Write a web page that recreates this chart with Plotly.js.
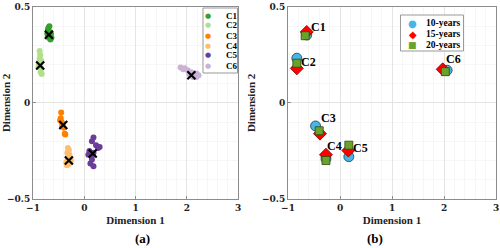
<!DOCTYPE html>
<html>
<head>
<meta charset="utf-8">
<script src="https://cdn.plot.ly/plotly-3.0.1.min.js"></script>
<style>
  html, body { margin: 0; padding: 0; background: #fff; }
  #chart { width: 500px; height: 248px; }
</style>
</head>
<body>
<div id="chart"></div>
<script>
// ---- panel (a): cluster points ----
var clusterNames = ['C1', 'C2', 'C3', 'C4', 'C5', 'C6'];
var clusterColors = ['#33a02c', '#b2df8a', '#ff7f00', '#fdbf6f', '#6a3d9a', '#cab2d6'];

var c1X = [-0.68, -0.70, -0.71, -0.72, -0.71, -0.69, -0.66, -0.64, -0.65, -0.67, -0.70, -0.68];
var c1Y = [0.40, 0.39, 0.38, 0.36, 0.35, 0.34, 0.33, 0.34, 0.36, 0.37, 0.37, 0.35];
var c2X = [-0.87, -0.86, -0.87, -0.88, -0.89, -0.86, -0.84, -0.85, -0.83, -0.84];
var c2Y = [0.27, 0.25, 0.23, 0.21, 0.19, 0.20, 0.18, 0.16, 0.15, 0.22];
var c3X = [-0.45, -0.46, -0.47, -0.44, -0.42, -0.40, -0.38, -0.37, -0.43];
var c3Y = [-0.05, -0.08, -0.09, -0.10, -0.11, -0.13, -0.16, -0.165, -0.12];
var c4X = [-0.32, -0.30, -0.33, -0.31, -0.29, -0.28, -0.33, -0.35, -0.30, -0.26, -0.34, -0.31];
var c4Y = [-0.235, -0.245, -0.26, -0.275, -0.27, -0.29, -0.30, -0.31, -0.315, -0.30, -0.325, -0.32];
var c5X = [0.18, 0.15, 0.23, 0.27, 0.10, 0.18, 0.14, 0.15, 0.12, 0.18, 0.30, 0.08];
var c5Y = [-0.18, -0.20, -0.22, -0.235, -0.25, -0.26, -0.28, -0.295, -0.315, -0.33, -0.23, -0.27];
var c6X = [1.88, 1.96, 2.02, 2.09, 2.19, 2.23, 2.19, 2.12, 2.05, 1.93];
var c6Y = [0.185, 0.18, 0.17, 0.16, 0.153, 0.144, 0.135, 0.135, 0.15, 0.175];

var centroidX = [-0.69, -0.86, -0.41, -0.30, 0.165, 2.09];
var centroidY = [0.355, 0.195, -0.115, -0.30, -0.264, 0.144];

// ---- panel (b): cluster centres per period ----
var periodNames = ['10-years', '15-years', '20-years'];
var periodColors = ['#45b6e6', '#ff0000', '#6aa32a'];
var periodGlyphs = ['\u25CF', '\u25C6', '\u25A0'];
var yr10X = [-0.64, -0.83, -0.47, -0.27, 0.17, 2.06];
var yr10Y = [0.354, 0.233, -0.12, -0.29, -0.28, 0.17];
var yr15X = [-0.64, -0.83, -0.385, -0.27, 0.16, 1.975];
var yr15Y = [0.37, 0.18, -0.16, -0.27, -0.248, 0.175];
var yr20X = [-0.67, -0.83, -0.40, -0.27, 0.17, 2.025];
var yr20Y = [0.35, 0.207, -0.145, -0.30, -0.22, 0.163];

var serif = 'DejaVu Serif';
var serif2 = 'Times New Roman';

var allX = [c1X, c2X, c3X, c4X, c5X, c6X];
var allY = [c1Y, c2Y, c3Y, c4Y, c5Y, c6Y];

var traces = [];
for (var i = 0; i < clusterNames.length; i++) {
    traces.push({
        x: allX[i], y: allY[i],
        name: clusterNames[i],
        type: 'scatter', mode: 'markers',
        xaxis: 'x', yaxis: 'y',
        marker: { color: clusterColors[i], size: 6 }
    });
}
traces.push({
    x: centroidX, y: centroidY,
    type: 'scatter', mode: 'markers',
    xaxis: 'x', yaxis: 'y',
    marker: { symbol: 'x-thin', size: 8, color: '#000', line: { color: '#000', width: 2.2 } }
});

// panel (b)
traces.push({
    x: yr10X, y: yr10Y, name: periodNames[0],
    type: 'scatter', mode: 'markers', xaxis: 'x2', yaxis: 'y2',
    marker: { symbol: 'circle', size: 10, color: periodColors[0], line: { color: '#2a3a4a', width: 0.8 } }
});
traces.push({
    x: yr15X, y: yr15Y, name: periodNames[1],
    type: 'scatter', mode: 'markers', xaxis: 'x2', yaxis: 'y2',
    marker: { symbol: 'diamond', size: 10, color: periodColors[1], line: { color: '#7a0000', width: 0.8 } }
});
traces.push({
    x: yr20X, y: yr20Y, name: periodNames[2],
    type: 'scatter', mode: 'markers', xaxis: 'x2', yaxis: 'y2',
    marker: { symbol: 'square', size: 8, color: periodColors[2], line: { color: '#2f4a12', width: 0.8 } }
});

// label offsets (px) for the C1..C6 tags in panel (b)
var labelShift = [[12, 8], [12, -4], [13, 8], [9, 13], [12, 9], [6, 11]];
var annotations = [];
for (var k = 0; k < clusterNames.length; k++) {
    annotations.push({
        x: yr10X[k], y: yr10Y[k], xref: 'x2', yref: 'y2',
        text: '<b>' + clusterNames[k] + '</b>', showarrow: false,
        xshift: labelShift[k][0], yshift: labelShift[k][1],
        font: { family: serif2, size: 12, color: '#000' }
    });
}
annotations.push({ text: '<b>(a)</b>', x: 0.266, y: 1 - 238 / 248, xref: 'paper', yref: 'paper',
    yanchor: 'middle', showarrow: false, font: { family: serif2, size: 13, color: '#000' } });
annotations.push({ text: '<b>(b)</b>', x: 0.77, y: 1 - 238 / 248, xref: 'paper', yref: 'paper',
    yanchor: 'middle', showarrow: false, font: { family: serif2, size: 13, color: '#000' } });

// compact legends (MATLAB style), rows built from the names / colours above
for (var a = 0; a < clusterNames.length; a++) {
    var ya = 1 - (15.5 + 10 * a) / 248;
    annotations.push({ text: '\u25CF', x: 208 / 500, y: ya, xref: 'paper', yref: 'paper',
        xanchor: 'center', yanchor: 'middle', showarrow: false,
        font: { family: 'DejaVu Sans', size: 7, color: clusterColors[a] } });
    annotations.push({ text: '<b>' + clusterNames[a] + '</b>', x: 224 / 500, y: ya, xref: 'paper', yref: 'paper',
        xanchor: 'left', yanchor: 'middle', showarrow: false,
        font: { family: serif2, size: 9, color: '#000' } });
}
for (var b = 0; b < periodNames.length; b++) {
    var yb = 1 - (23.5 + 10.5 * b) / 248;
    annotations.push({ text: periodGlyphs[b], x: 412.5 / 500, y: yb, xref: 'paper', yref: 'paper',
        xanchor: 'center', yanchor: 'middle', showarrow: false,
        font: { family: 'DejaVu Sans', size: b === 2 ? 9 : 10, color: periodColors[b] } });
    annotations.push({ text: '<b>' + periodNames[b] + '</b>', x: 424 / 500, y: yb, xref: 'paper', yref: 'paper',
        xanchor: 'left', yanchor: 'middle', showarrow: false,
        font: { family: serif2, size: 9.5, color: '#000' } });
}

var shapes = [
    { type: 'rect', xref: 'paper', yref: 'paper', x0: 203 / 500, x1: 237.5 / 500,
      y0: 1 - 73 / 248, y1: 1 - 8 / 248, line: { color: '#999', width: 1 }, fillcolor: '#fff', layer: 'above' },
    { type: 'rect', xref: 'paper', yref: 'paper', x0: 400.5 / 500, x1: 463.5 / 500,
      y0: 1 - 51 / 248, y1: 1 - 15 / 248, line: { color: '#999', width: 1 }, fillcolor: '#fff', layer: 'above' }
];

function xAxis(domain, anchor) {
    return {
        domain: domain, anchor: anchor, range: [-1, 3], dtick: 1,
        showline: true, mirror: true, linecolor: '#8c8c8c', linewidth: 1,
        ticks: 'inside', ticklen: 3, tickcolor: '#8c8c8c',
        showgrid: true, gridcolor: '#e4e4e4', zeroline: false,
        minor: { dtick: 0.2, showgrid: true, gridcolor: '#f6f6f6' },
        tickfont: { family: serif, size: 9, color: '#222', weight: 'bold' },
        title: { text: '<b>Dimension 1</b>', standoff: 4, font: { family: serif2, size: 11, color: '#222' } }
    };
}
function yAxis(anchor) {
    return {
        domain: [0.198, 0.972], anchor: anchor, range: [-0.5, 0.5], dtick: 0.5,
        showline: true, mirror: true, linecolor: '#8c8c8c', linewidth: 1,
        ticks: 'inside', ticklen: 3, tickcolor: '#8c8c8c',
        showgrid: true, gridcolor: '#e4e4e4', zeroline: false,
        minor: { dtick: 0.1, showgrid: true, gridcolor: '#f6f6f6' },
        tickfont: { family: serif, size: 9, color: '#222', weight: 'bold' },
        title: { text: '<b>Dimension 2</b>', standoff: 4, font: { family: serif2, size: 11, color: '#222' } }
    };
}

var layout = {
    width: 500, height: 248,
    margin: { l: 0, r: 0, t: 0, b: 0 },
    paper_bgcolor: '#fff', plot_bgcolor: '#fff',
    font: { family: serif2 },
    xaxis: xAxis([0.066, 0.476], 'y'),
    yaxis: yAxis('x'),
    xaxis2: xAxis([0.576, 0.992], 'y2'),
    yaxis2: yAxis('x2'),
    showlegend: false,
    annotations: annotations,
    shapes: shapes
};

Plotly.newPlot('chart', traces, layout, { displayModeBar: false, staticPlot: true });
</script>
</body>
</html>
